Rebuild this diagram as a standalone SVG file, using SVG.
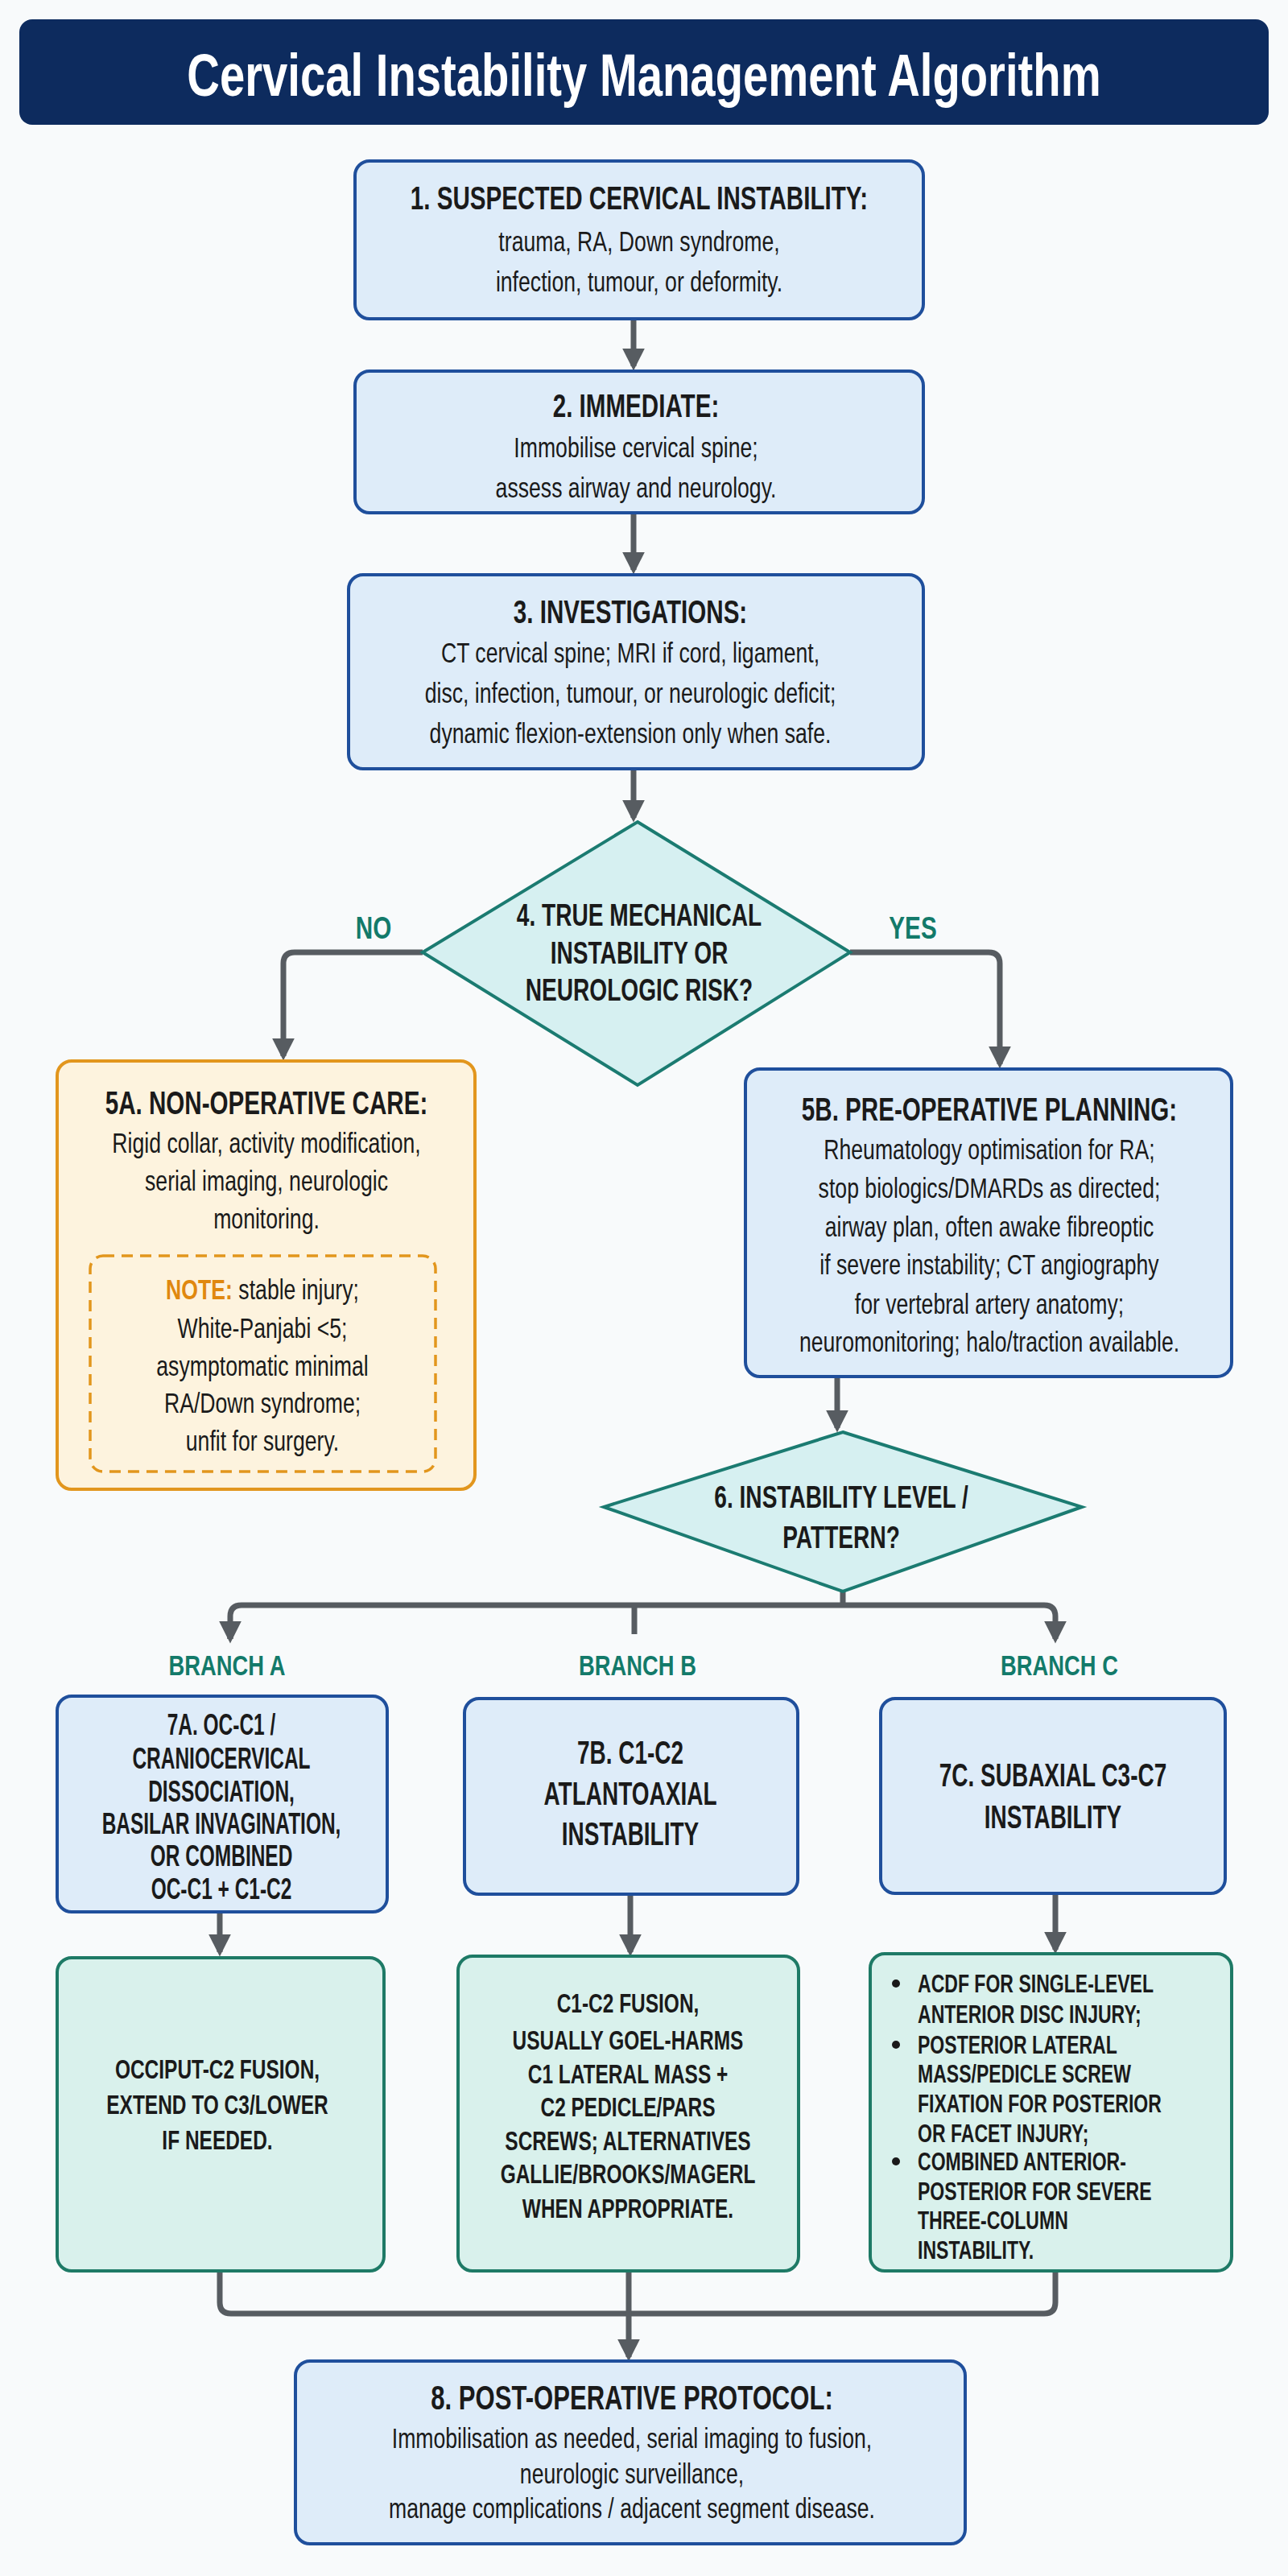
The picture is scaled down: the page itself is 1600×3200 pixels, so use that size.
<svg xmlns="http://www.w3.org/2000/svg" width="1600" height="3200" viewBox="0 0 1600 3200">
<defs>
<style>
.t{font-family:"Liberation Sans",Arial,sans-serif;fill:#1a1a1a;text-anchor:middle}
.b{font-weight:bold}
.blue{fill:#deecf9;stroke:#1f4f9c;stroke-width:4}
.dia{fill:#d6f0f1;stroke:#1b7b71;stroke-width:4}
.grn{fill:#d9f1ec;stroke:#1e7a66;stroke-width:4}
.org{fill:#fdf3de;stroke:#e2961d;stroke-width:4}
.lab{font-family:"Liberation Sans",Arial,sans-serif;font-weight:bold;fill:#137a6a;text-anchor:middle}
.c{fill:none;stroke:#575c61;stroke-width:7;stroke-linejoin:round}
</style>
<marker id="ah" viewBox="0 0 10 10" refX="8" refY="5" markerWidth="4" markerHeight="4" orient="auto" markerUnits="strokeWidth"><path d="M0,0 L10,5 L0,10 z" fill="#575c61"/></marker>
</defs>
<rect width="1600" height="3200" fill="#f8fafb"/>
<g id="title">
<rect x="24" y="24" width="1552" height="131" rx="16" fill="#0d2b5e"/>
<text class="t b" style="fill:#fff" font-size="74" transform="translate(800,119) scale(0.76,1)">Cervical Instability Management Algorithm</text>
</g>
<g id="connectors">
<path class="c" d="M787,396 V455" marker-end="url(#ah)"/>
<path class="c" d="M787,637 V708" marker-end="url(#ah)"/>
<path class="c" d="M787,955 V1016" marker-end="url(#ah)"/>
<path class="c" d="M525,1183 H366 Q352,1183 352,1197 V1312" marker-end="url(#ah)"/>
<path class="c" d="M1056,1183 H1228 Q1242,1183 1242,1197 V1322" marker-end="url(#ah)"/>
<path class="c" d="M1040,1710 V1774" marker-end="url(#ah)"/>
<path class="c" d="M1047,1977 V1994"/>
<path class="c" d="M286,2036 V2008 Q286,1994 300,1994 H1297 Q1311,1994 1311,2008 V2036" marker-end="url(#ah)"/>
<path class="c" d="M286,2030 V2036" marker-end="url(#ah)"/>
<path class="c" d="M788,1994 V2030"/>
<path class="c" d="M273,2375 V2425" marker-end="url(#ah)"/>
<path class="c" d="M783,2353 V2425" marker-end="url(#ah)"/>
<path class="c" d="M1311,2352 V2422" marker-end="url(#ah)"/>
<path class="c" d="M273,2821 V2860 Q273,2874 287,2874 H1297 Q1311,2874 1311,2860 V2821"/>
<path class="c" d="M781,2821 V2928" marker-end="url(#ah)"/>
</g>
<g id="n1">
<rect class="blue" x="441" y="200" width="706" height="196" rx="18"/>
<text class="t" font-size="36" transform="translate(794,0) scale(0.74,1)"><tspan class="b" font-size="40" x="0" y="260">1. SUSPECTED CERVICAL INSTABILITY:</tspan><tspan x="0" y="312">trauma, RA, Down syndrome,</tspan><tspan x="0" y="362">infection, tumour, or deformity.</tspan></text>
</g>
<g id="n2">
<rect class="blue" x="441" y="461" width="706" height="176" rx="18"/>
<text class="t" font-size="36" transform="translate(790,0) scale(0.74,1)"><tspan class="b" font-size="40" x="0" y="518">2. IMMEDIATE:</tspan><tspan x="0" y="568">Immobilise cervical spine;</tspan><tspan x="0" y="618">assess airway and neurology.</tspan></text>
</g>
<g id="n3">
<rect class="blue" x="433" y="714" width="714" height="241" rx="18"/>
<text class="t" font-size="36" transform="translate(783,0) scale(0.74,1)"><tspan class="b" font-size="40" x="0" y="774">3. INVESTIGATIONS:</tspan><tspan x="0" y="823">CT cervical spine; MRI if cord, ligament,</tspan><tspan x="0" y="873">disc, infection, tumour, or neurologic deficit;</tspan><tspan x="0" y="923">dynamic flexion-extension only when safe.</tspan></text>
</g>
<g id="n4">
<polygon class="dia" points="792,1021 1056,1183 792,1348 525,1183"/>
<text class="t b" font-size="38" transform="translate(794,0) scale(0.74,1)"><tspan x="0" y="1150">4. TRUE MECHANICAL</tspan><tspan x="0" y="1197">INSTABILITY OR</tspan><tspan x="0" y="1243">NEUROLOGIC RISK?</tspan></text>
</g>
<text class="lab" font-size="38" transform="translate(464,1166) scale(0.78,1)">NO</text>
<text class="lab" font-size="38" transform="translate(1134,1166) scale(0.78,1)">YES</text>
<g id="n5a">
<rect class="org" x="71" y="1318" width="519" height="532" rx="18"/>
<text class="t" font-size="36" transform="translate(331,0) scale(0.74,1)"><tspan class="b" font-size="40" x="0" y="1384">5A. NON-OPERATIVE CARE:</tspan><tspan x="0" y="1432">Rigid collar, activity modification,</tspan><tspan x="0" y="1479">serial imaging, neurologic</tspan><tspan x="0" y="1526">monitoring.</tspan></text>
<rect x="112" y="1560" width="429" height="268" rx="16" fill="none" stroke="#e2961d" stroke-width="3.5" stroke-dasharray="14,9"/>
<text class="t" font-size="36" transform="translate(326,0) scale(0.74,1)"><tspan x="0" y="1614"><tspan class="b" style="fill:#e0880f">NOTE:</tspan> stable injury;</tspan><tspan x="0" y="1662">White-Panjabi &lt;5;</tspan><tspan x="0" y="1709">asymptomatic minimal</tspan><tspan x="0" y="1755">RA/Down syndrome;</tspan><tspan x="0" y="1802">unfit for surgery.</tspan></text>
</g>
<g id="n5b">
<rect class="blue" x="926" y="1328" width="604" height="382" rx="18"/>
<text class="t" font-size="36" transform="translate(1229,0) scale(0.74,1)"><tspan class="b" font-size="40" x="0" y="1392">5B. PRE-OPERATIVE PLANNING:</tspan><tspan x="0" y="1440">Rheumatology optimisation for RA;</tspan><tspan x="0" y="1488">stop biologics/DMARDs as directed;</tspan><tspan x="0" y="1536">airway plan, often awake fibreoptic</tspan><tspan x="0" y="1583">if severe instability; CT angiography</tspan><tspan x="0" y="1632">for vertebral artery anatomy;</tspan><tspan x="0" y="1679">neuromonitoring; halo/traction available.</tspan></text>
</g>
<g id="n6">
<polygon class="dia" points="1047,1779 1344,1872 1047,1977 750,1872"/>
<text class="t b" font-size="38" transform="translate(1045,0) scale(0.74,1)"><tspan x="0" y="1873">6. INSTABILITY LEVEL /</tspan><tspan x="0" y="1923">PATTERN?</tspan></text>
</g>
<text class="lab" font-size="36" transform="translate(282,2081) scale(0.76,1)">BRANCH A</text>
<text class="lab" font-size="36" transform="translate(792,2081) scale(0.76,1)">BRANCH B</text>
<text class="lab" font-size="36" transform="translate(1316,2081) scale(0.76,1)">BRANCH C</text>
<g id="n7a">
<rect class="blue" x="71" y="2107" width="410" height="268" rx="18"/>
<text class="t b" font-size="36" transform="translate(275,0) scale(0.68,1)"><tspan x="0" y="2155">7A. OC-C1 /</tspan><tspan x="0" y="2197">CRANIOCERVICAL</tspan><tspan x="0" y="2238">DISSOCIATION,</tspan><tspan x="0" y="2278">BASILAR INVAGINATION,</tspan><tspan x="0" y="2318">OR COMBINED</tspan><tspan x="0" y="2359">OC-C1 + C1-C2</tspan></text>
</g>
<g id="n7b">
<rect class="blue" x="577" y="2110" width="414" height="243" rx="18"/>
<text class="t b" font-size="40" transform="translate(783,0) scale(0.7,1)"><tspan x="0" y="2191">7B. C1-C2</tspan><tspan x="0" y="2242">ATLANTOAXIAL</tspan><tspan x="0" y="2292">INSTABILITY</tspan></text>
</g>
<g id="n7c">
<rect class="blue" x="1094" y="2110" width="428" height="242" rx="18"/>
<text class="t b" font-size="40" transform="translate(1308,0) scale(0.7,1)"><tspan x="0" y="2219">7C. SUBAXIAL C3-C7</tspan><tspan x="0" y="2271">INSTABILITY</tspan></text>
</g>
<g id="n8a">
<rect class="grn" x="71" y="2432" width="406" height="389" rx="18"/>
<text class="t b" font-size="34" transform="translate(270,0) scale(0.72,1)"><tspan x="0" y="2582">OCCIPUT-C2 FUSION,</tspan><tspan x="0" y="2626">EXTEND TO C3/LOWER</tspan><tspan x="0" y="2670">IF NEEDED.</tspan></text>
</g>
<g id="n8b">
<rect class="grn" x="569" y="2430" width="423" height="391" rx="18"/>
<text class="t b" font-size="34" transform="translate(780,0) scale(0.72,1)"><tspan x="0" y="2500">C1-C2 FUSION,</tspan><tspan x="0" y="2546">USUALLY GOEL-HARMS</tspan><tspan x="0" y="2588">C1 LATERAL MASS +</tspan><tspan x="0" y="2629">C2 PEDICLE/PARS</tspan><tspan x="0" y="2671">SCREWS; ALTERNATIVES</tspan><tspan x="0" y="2712">GALLIE/BROOKS/MAGERL</tspan><tspan x="0" y="2755">WHEN APPROPRIATE.</tspan></text>
</g>
<g id="n8c">
<rect class="grn" x="1081" y="2427" width="449" height="394" rx="18"/>
<text class="t b" font-size="32" style="text-anchor:start" transform="translate(1140,0) scale(0.72,1)"><tspan x="0" y="2475">ACDF FOR SINGLE-LEVEL</tspan><tspan x="0" y="2513">ANTERIOR DISC INJURY;</tspan><tspan x="0" y="2551">POSTERIOR LATERAL</tspan><tspan x="0" y="2587">MASS/PEDICLE SCREW</tspan><tspan x="0" y="2624">FIXATION FOR POSTERIOR</tspan><tspan x="0" y="2661">OR FACET INJURY;</tspan><tspan x="0" y="2696">COMBINED ANTERIOR-</tspan><tspan x="0" y="2733">POSTERIOR FOR SEVERE</tspan><tspan x="0" y="2769">THREE-COLUMN</tspan><tspan x="0" y="2806">INSTABILITY.</tspan></text>
<circle cx="1113" cy="2464" r="5" fill="#1a1a1a"/>
<circle cx="1113" cy="2540" r="5" fill="#1a1a1a"/>
<circle cx="1113" cy="2685" r="5" fill="#1a1a1a"/>
</g>
<g id="n9">
<rect class="blue" x="367" y="2933" width="832" height="227" rx="18"/>
<text class="t" font-size="36" transform="translate(785,0) scale(0.74,1)"><tspan class="b" font-size="42" x="0" y="2993">8. POST-OPERATIVE PROTOCOL:</tspan><tspan x="0" y="3041">Immobilisation as needed, serial imaging to fusion,</tspan><tspan x="0" y="3085">neurologic surveillance,</tspan><tspan x="0" y="3128">manage complications / adjacent segment disease.</tspan></text>
</g>
</svg>
